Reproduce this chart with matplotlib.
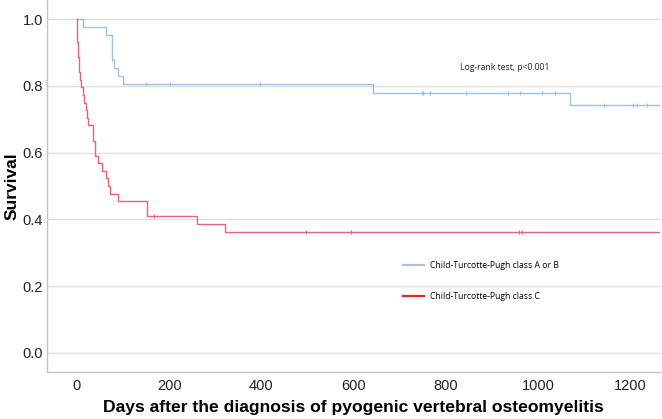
import numpy as np
import matplotlib
matplotlib.use("Agg")
import matplotlib.pyplot as plt
from matplotlib.lines import Line2D

# === Kaplan-Meier step data ===
# Child-Turcotte-Pugh class A or B
ab_days = [0, 14, 62, 77, 81, 88, 100, 643, 1069, 1262]
ab_surv = [1.0, 0.976, 0.951, 0.878, 0.854, 0.829, 0.805, 0.779, 0.742, 0.742]
ab_censor = [149, 202, 397, 748, 751, 766, 843, 935, 962, 1009, 1037, 1144, 1207, 1216, 1236]

# Child-Turcotte-Pugh class C
c_days = [0, 1, 3, 5, 7, 9, 13, 16, 19, 21, 24, 35, 39, 46, 54, 62, 68, 71, 90, 151, 260, 321, 1262]
c_surv = [1.0, 0.932, 0.886, 0.841, 0.818, 0.795, 0.773, 0.750, 0.727, 0.705, 0.682,
          0.636, 0.591, 0.568, 0.545, 0.523, 0.500, 0.477, 0.455, 0.409, 0.385, 0.361, 0.361]
c_censor = [168, 497, 594, 960, 966]

x_ticks = [0, 200, 400, 600, 800, 1000, 1200]
y_ticks = [0.0, 0.2, 0.4, 0.6, 0.8, 1.0]

labels = ["Child-Turcotte-Pugh class A or B", "Child-Turcotte-Pugh class C"]

# === Styling ===
curve_colors = ["#a3bfe2", "#e3647e"]
legend_colors = ["#a9c1e0", "#e8262c"]


def surv_at(days, surv, t):
    idx = np.searchsorted(days, t, side="right") - 1
    return np.asarray(surv)[idx]


fig = plt.figure(figsize=(6.62, 4.19), dpi=100)
ax = fig.add_axes([0.071, 0.1114, 0.926, 0.8886])

groups = [(ab_days, ab_surv, ab_censor), (c_days, c_surv, c_censor)]
for (days, surv, cens), col in zip(groups, curve_colors):
    ax.step(days, surv, where="post", color=col, lw=1.0)
    ax.plot(cens, surv_at(days, surv, cens), linestyle="none", marker="|",
            markersize=3.5, markeredgewidth=0.9, color=col)

ax.set_xlim(-65, 1265)
ax.set_ylim(-0.058, 1.057)
ax.set_xticks(x_ticks)
ax.set_yticks(y_ticks)
ax.set_yticklabels([f"{v:.1f}" for v in y_ticks])
ax.tick_params(length=0, labelsize=10.5, colors="#222222")
ax.tick_params(axis="x", pad=5)
ax.tick_params(axis="y", pad=3)
for lab in ax.get_xticklabels() + ax.get_yticklabels():
    lab.set_family("Liberation Sans")

ax.grid(axis="y", color="#dedede", lw=1.0)
ax.set_axisbelow(True)
for s in ["top", "right"]:
    ax.spines[s].set_visible(False)
for s in ["left", "bottom"]:
    ax.spines[s].set_color("#c4c4c4")
    ax.spines[s].set_linewidth(1.0)

ax.set_xlabel("Days after the diagnosis of pyogenic vertebral osteomyelitis",
              fontsize=12.6, fontweight="bold", family="Liberation Sans", labelpad=5)
ax.set_ylabel("Survival", fontsize=12.5, fontweight="bold", family="Liberation Sans", labelpad=2)

ax.text(928, 0.856, "Log-rank test, p<0.001", ha="center", va="center",
        fontsize=6.2, family="Open Sans", color="#222222")

handles = [Line2D([], [], color=c, lw=1.6) for c in legend_colors]
ax.legend(handles, labels, loc="center left", bbox_to_anchor=(0.574, 0.245),
          frameon=False, borderpad=0, labelspacing=2.6,
          handlelength=2.4, handletextpad=0.7, prop={"family": "Open Sans", "size": 6.2})

fig.savefig("out.png", dpi=100)
